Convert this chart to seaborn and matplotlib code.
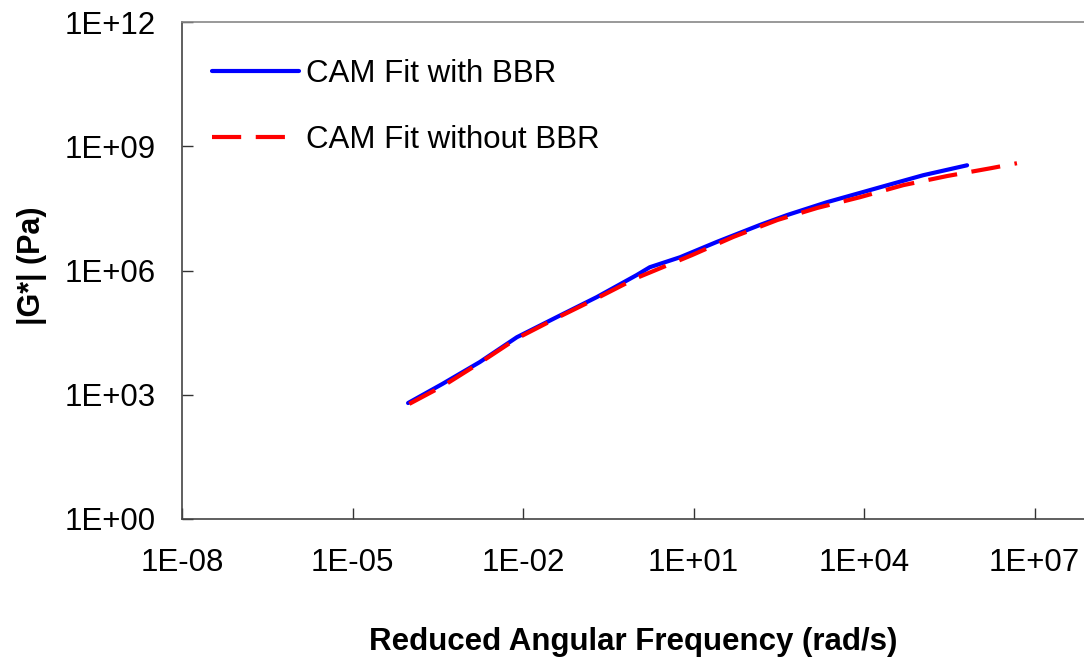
import numpy as np
import pandas as pd
import matplotlib
matplotlib.use('Agg')
import matplotlib.pyplot as plt
import seaborn as sns
from matplotlib.ticker import FixedLocator, FuncFormatter, NullLocator

# values (log-log)
freq_with = [9.5e-5, 3.8e-4, 1.74e-3, 7.8e-3, 4.0e-2, 0.20, 1.0, 1.7, 5.8,
             25.7, 148, 447, 2.24e3, 1.9e4, 1.1e5, 6.5e5]
gstar_with = [631, 1.82e3, 6.17e3, 2.45e4, 7.59e4, 2.29e5, 7.76e5, 1.2e6, 2.09e6,
              4.9e6, 1.26e7, 2.19e7, 4.47e7, 1.02e8, 2.0e8, 3.47e8]

freq_without = [1.0e-4, 4.0e-4, 1.74e-3, 7.8e-3, 4.0e-2, 0.20, 1.0, 9.3, 50,
                300, 1.5e3, 8.5e3, 4.9e4, 2.9e5, 1.7e6, 4.9e6]
gstar_without = [603, 1.66e3, 5.89e3, 2.29e4, 7.24e4, 2.14e5, 6.61e5, 2.34e6, 6.46e6,
                 1.66e7, 3.24e7, 5.89e7, 1.15e8, 1.91e8, 2.95e8, 3.89e8]

series_names = ['CAM Fit with BBR', 'CAM Fit without BBR']
x_ticks = [1e-8, 1e-5, 1e-2, 1e1, 1e4, 1e7]
y_ticks = [1e0, 1e3, 1e6, 1e9, 1e12]

df = pd.concat([
    pd.DataFrame({'freq': freq_with, 'gstar': gstar_with, 'series': series_names[0]}),
    pd.DataFrame({'freq': freq_without, 'gstar': gstar_without, 'series': series_names[1]}),
], ignore_index=True)

sns.set_style('white')
plt.rcParams['font.family'] = ['Liberation Sans', 'DejaVu Sans']
plt.rcParams['text.color'] = 'black'
plt.rcParams['axes.labelcolor'] = 'black'

fig = plt.figure(figsize=(10.84, 6.58), dpi=100)
ax = fig.add_axes([182 / 1084, 139 / 658, 902 / 1084, 497 / 658])

sns.lineplot(data=df, x='freq', y='gstar', hue='series', style='series',
             palette={series_names[0]: '#0000ff', series_names[1]: '#ff0000'},
             dashes={series_names[0]: '', series_names[1]: (7, 3.5)},
             sort=False, estimator=None, linewidth=3.0, ax=ax)

ax.set_xscale('log')
ax.set_yscale('log')
ax.set_xlim(1e-8, 10 ** 7.87)
ax.set_ylim(1e0, 1e12)

fmt = FuncFormatter(lambda v, pos: f'1E{int(round(np.log10(v))):+03d}')
ax.xaxis.set_major_locator(FixedLocator(x_ticks))
ax.yaxis.set_major_locator(FixedLocator(y_ticks))
ax.xaxis.set_minor_locator(NullLocator())
ax.yaxis.set_minor_locator(NullLocator())
ax.xaxis.set_major_formatter(fmt)
ax.yaxis.set_major_formatter(fmt)

ax.tick_params(axis='both', which='major', direction='in', length=8, width=1,
               color='#333333', labelsize=22.5, labelcolor='black')
ax.tick_params(axis='x', pad=21, bottom=True)
ax.tick_params(axis='y', pad=19, left=True)

for side in ['left', 'bottom']:
    ax.spines[side].set_color('#444444')
    ax.spines[side].set_linewidth(1.2)
ax.spines['top'].set_color('#888888')
ax.spines['top'].set_linewidth(1.2)
ax.spines['right'].set_visible(False)

ax.set_xlabel('Reduced Angular Frequency (rad/s)', fontsize=22.5, fontweight='bold')
ax.set_ylabel('|G*| (Pa)', fontsize=22, fontweight='bold')
ax.xaxis.label.set_va('center')
ax.yaxis.label.set_va('center')
ax.xaxis.set_label_coords(0.5, -0.2475)
ax.yaxis.set_label_coords(-0.166, 0.51)

leg = ax.legend(loc='upper left', bbox_to_anchor=(0.033, 0.925), frameon=False,
                fontsize=22.5, handlelength=2.8, handletextpad=0.22, labelspacing=1.15,
                borderaxespad=0, borderpad=0)
for t in leg.get_texts():
    t.set_color('black')

fig.savefig('out.png', dpi=100)
